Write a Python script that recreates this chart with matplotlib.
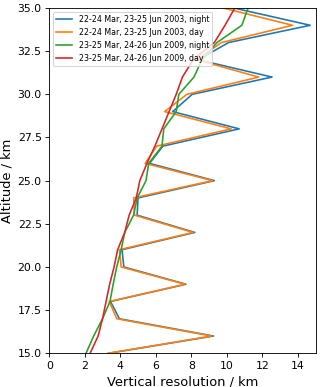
import numpy as np
import matplotlib
matplotlib.use('Agg')
import matplotlib.pyplot as plt

altitude = np.arange(15, 36)

res_2003_night = [3.35, 9.25, 3.95, 3.45, 7.7, 4.2, 4.1, 8.2, 4.95, 5.0, 9.3,
                  5.65, 6.4, 10.7, 6.95, 8.05, 12.55, 8.4, 10.1, 14.7, 10.4]
res_2003_day = [3.3, 9.15, 3.8, 3.38, 7.65, 4.05, 3.95, 8.1, 4.8, 4.75, 9.2,
                5.4, 6.05, 10.25, 6.5, 7.75, 11.8, 8.3, 9.7, 13.7, 9.8]
res_2009_night = [2.07, 2.5, 3.0, 3.42, 3.6, 3.8, 4.05, 4.25, 4.75, 4.95, 5.45,
                  5.6, 6.35, 6.45, 7.15, 7.3, 8.15, 8.6, 9.45, 10.85, 11.2]
res_2009_day = [2.3, 2.75, 3.0, 3.2, 3.4, 3.65, 3.85, 4.25, 4.5, 4.9, 5.1,
                5.5, 5.95, 6.35, 6.75, 7.15, 7.5, 8.1, 9.3, 9.9, 10.45]

labels = ['22-24 Mar, 23-25 Jun 2003, night',
          '22-24 Mar, 23-25 Jun 2003, day',
          '23-25 Mar, 24-26 Jun 2009, night',
          '23-25 Mar, 24-26 Jun 2009, day']

dpi = 78
fig = plt.figure(figsize=(320/dpi, 387/dpi), dpi=dpi)
ax = fig.add_axes([0.154, 0.0871, 0.832, 0.8922])

for res, lab in zip([res_2003_night, res_2003_day, res_2009_night, res_2009_day], labels):
    ax.plot(res, altitude, label=lab)

ax.set_xlim(0, 15)
ax.set_ylim(15, 35)
ax.set_xticks(np.arange(0, 15, 2))
ax.set_yticks(np.arange(15, 35.1, 2.5))
ax.tick_params(labelsize=10)
ax.set_xlabel('Vertical resolution / km', fontsize=12)
ax.set_ylabel('Altitude / km', fontsize=12)
ax.legend(loc='upper left', fontsize=7.3)

fig.savefig('out.png', dpi=dpi)
